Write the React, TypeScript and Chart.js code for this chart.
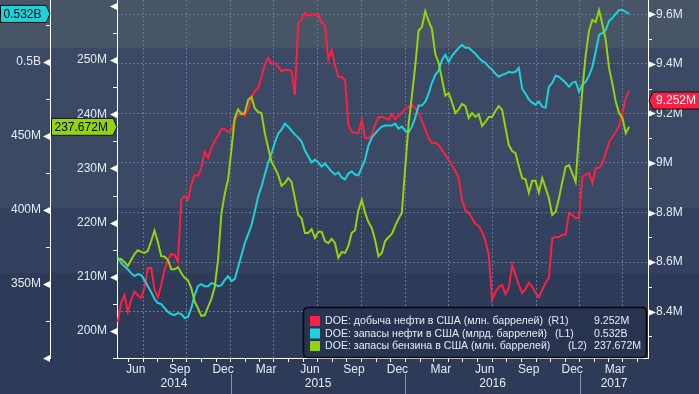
import React, { useEffect, useRef } from "react";
import { Chart, registerables } from "chart.js";

Chart.register(...registerables);

// ---------- data (weekly DOE observations) ----------
const FIRST_WEEK = { y: 2014, m: 4, d: 9 }; // 9 May 2014
const STEP_DAYS = 7;

// DOE: US crude production, million b/d (R1)
const productionR1 = [
  8.358, 8.435, 8.467, 8.399, 8.447, 8.48, 8.467, 8.455, 8.496, 8.576,
  8.576, 8.488, 8.459, 8.508, 8.568, 8.609, 8.633, 8.629, 8.601, 8.851,
  8.867, 8.851, 8.911, 8.952, 8.948, 8.98, 9.045, 9.02, 9.061, 9.089,
  9.109, 9.137, 9.137, 9.125, 9.133, 9.174, 9.194, 9.206, 9.19, 9.214,
  9.262, 9.291, 9.303, 9.347, 9.396, 9.424, 9.4, 9.404, 9.388, 9.371,
  9.375, 9.375, 9.371, 9.275, 9.569, 9.577, 9.606, 9.593, 9.601, 9.597,
  9.601, 9.565, 9.557, 9.416, 9.456, 9.396, 9.347, 9.347, 9.335, 9.154,
  9.125, 9.121, 9.121, 9.174, 9.101, 9.101, 9.113, 9.154, 9.186, 9.186,
  9.182, 9.174, 9.198, 9.178, 9.19, 9.202, 9.218, 9.226, 9.234, 9.222,
  9.202, 9.17, 9.137, 9.101, 9.081, 9.081, 9.073, 9.053, 9.032, 9.012,
  8.992, 8.968, 8.94, 8.851, 8.81, 8.798, 8.778, 8.754, 8.746, 8.722,
  8.685, 8.629, 8.447, 8.48, 8.5, 8.508, 8.471, 8.496, 8.588, 8.548,
  8.508, 8.475, 8.492, 8.516, 8.5, 8.475, 8.459, 8.488, 8.516, 8.536,
  8.697, 8.701, 8.701, 8.71, 8.71, 8.798, 8.79, 8.778, 8.778, 8.944,
  8.952, 8.96, 8.919, 8.98, 8.98, 9.0, 9.041, 9.085, 9.105, 9.125,
  9.149, 9.202, 9.262, 9.291,
];

// DOE: US crude inventories, million barrels (L1)
const crudeStocksL1 = [
  368.1, 364.0, 362.0, 360.0, 357.3, 355.3, 356.6, 356.0, 352.6, 348.5,
  344.5, 339.8, 337.1, 336.4, 333.7, 331.1, 329.7, 329.0, 330.4, 329.7,
  327.0, 327.7, 333.7, 342.5, 348.5, 349.9, 348.5, 348.5, 350.6, 349.9,
  348.5, 349.2, 352.6, 355.3, 351.9, 353.3, 361.3, 369.4, 377.5, 383.5,
  389.6, 399.0, 409.1, 415.8, 423.9, 432.0, 438.1, 445.5, 451.5, 454.2,
  458.2, 456.2, 453.5, 450.8, 448.8, 446.1, 440.1, 436.0, 432.0, 434.0,
  432.0, 429.3, 431.3, 428.6, 425.9, 423.9, 425.3, 421.9, 420.6, 424.6,
  425.9, 423.9, 423.3, 428.6, 434.0, 443.4, 448.8, 451.5, 454.2, 456.2,
  456.9, 456.9, 456.9, 458.2, 454.9, 456.2, 453.5, 452.2, 456.2, 462.3,
  470.4, 470.4, 473.1, 478.4, 485.8, 491.2, 493.9, 501.3, 504.7, 500.0,
  504.0, 506.7, 509.4, 511.4, 509.4, 509.4, 507.4, 505.4, 502.7, 500.6,
  499.3, 496.6, 494.6, 491.9, 489.9, 491.2, 491.9, 493.2, 492.6, 493.2,
  495.9, 481.8, 478.4, 474.4, 472.4, 471.0, 473.1, 469.7, 469.0, 483.1,
  485.8, 490.6, 489.9, 487.9, 485.8, 483.1, 485.8, 486.5, 479.8, 484.5,
  486.5, 490.6, 496.6, 506.7, 518.1, 519.5, 521.5, 527.6, 529.6, 532.3,
  535.0, 535.0, 533.6, 532.3,
];

// DOE: US gasoline inventories, million barrels (L2)
const gasolineStocksL2 = [
  213.1, 213.3, 212.7, 212.0, 213.1, 214.2, 214.9, 214.6, 214.4, 214.8,
  216.6, 218.5, 216.4, 213.8, 213.7, 213.1, 211.4, 211.4, 211.8, 210.7,
  209.8, 209.4, 207.9, 205.4, 204.2, 202.8, 202.9, 204.4, 205.9, 208.1,
  213.1, 221.6, 225.3, 227.9, 233.4, 239.3, 240.9, 240.0, 240.2, 242.6,
  243.2, 241.1, 240.4, 240.2, 236.5, 233.8, 231.2, 230.1, 228.8, 226.8,
  227.3, 228.2, 227.5, 224.5, 221.4, 220.8, 218.1, 218.1, 218.8, 217.2,
  218.3, 218.3, 216.6, 216.2, 217.0, 216.2, 213.5, 214.6, 214.4, 215.7,
  218.1, 218.6, 222.3, 224.2, 221.8, 220.1, 219.0, 216.8, 213.8, 214.4,
  216.6, 217.3, 217.9, 219.4, 220.7, 221.8, 230.1, 238.0, 243.4, 248.9,
  255.4, 256.1, 259.0, 257.2, 255.7, 251.1, 249.5, 246.5, 243.4, 243.9,
  242.2, 240.2, 240.9, 241.9, 241.5, 239.3, 240.2, 239.5, 240.0, 237.8,
  238.6, 239.5, 239.5, 240.6, 241.5, 240.8, 237.5, 234.3, 233.2, 232.8,
  230.4, 228.2, 228.0, 225.5, 227.7, 227.7, 225.6, 228.2, 226.4, 224.5,
  221.4, 222.0, 224.5, 227.5, 230.3, 230.6, 229.1, 227.5, 236.5, 244.5,
  250.9, 255.4, 257.4, 257.0, 259.2, 256.6, 253.7, 248.5, 245.6, 242.3,
  240.2, 239.3, 236.5, 237.7,
];

const seriesNames = [
  "DOE: добыча нефти в США (млн. баррелей)",
  "DOE: запасы нефти в США (млрд. баррелей)",
  "DOE: запасы бензина в США (млн. баррелей)",
];
const seriesTags = ["(R1)", "(L1)", "(L2)"];
const lastValues = [9.252, 532.3, 237.672];
const lastValueLabels = ["9.252M", "0.532B", "237.672M"];

const l1Ticks = [300, 325, 350, 375, 400, 425, 450, 475, 500, 525];
const l1Labels: [number, string][] = [[350, "350M"], [400, "400M"], [450, "450M"], [500, "0.5B"]];
const l1Majors = [300, 350, 400, 450, 500];

const l2Ticks = [195, 200, 205, 210, 215, 220, 225, 230, 235, 240, 245, 250, 255, 260];
const l2Labels: [number, string][] = [[200, "200M"], [210, "210M"], [220, "220M"], [230, "230M"], [240, "240M"], [250, "250M"]];
const l2Majors = [200, 210, 220, 230, 240, 250, 260];

const r1Ticks = [8.3, 8.4, 8.5, 8.6, 8.7, 8.8, 8.9, 9.0, 9.1, 9.2, 9.3, 9.4, 9.5, 9.6];
const r1Labels: [number, string][] = [[8.4, "8.4M"], [8.6, "8.6M"], [8.8, "8.8M"], [9.0, "9M"], [9.2, "9.2M"], [9.4, "9.4M"], [9.6, "9.6M"]];
const r1Majors = [8.4, 8.6, 8.8, 9.0, 9.2, 9.4, 9.6];

const monthNames = ["Jan", "Feb", "Mar", "Apr", "May", "Jun", "Jul", "Aug", "Sep", "Oct", "Nov", "Dec"];
const labeledMonths = [2, 5, 8, 11];
const gridMonths = [0, 3, 6, 9];
const years = [2014, 2015, 2016, 2017];

// ---------- styles ----------
const RED = "#ff1f45";
const CYAN = "#1cd3d9";
const GREEN = "#93d40b";
const GRID = "#5e7a94";
const TEXT = "#e6ebf3";
const FONT = "Liberation Sans";
const X_MIN = 126.4;
const X_MAX = 1238.5;

const dayOf = (y: number, m: number, d: number) =>
  (Date.UTC(y, m, d) - Date.UTC(2014, 0, 1)) / 86400000;

const near = (a: number, b: number) => Math.abs(a - b) < 1e-6;
const inList = (list: number[], v: number) => list.some((x) => near(x, v));
const labelFrom = (pairs: [number, string][], v: number) => {
  const p = pairs.find((q) => near(q[0], v));
  return p ? p[1] : "";
};

const startDay = dayOf(FIRST_WEEK.y, FIRST_WEEK.m, FIRST_WEEK.d);
const toPoints = (vals: number[]) => vals.map((v, i) => ({ x: startDay + i * STEP_DAYS, y: v }));

const monthTicks: { value: number; m: number }[] = [];
years.forEach((y) => {
  for (let m = 0; m < 12; m++) {
    const d = dayOf(y, m, 1);
    if (d >= X_MIN && d <= X_MAX) monthTicks.push({ value: d, m });
  }
});

const bandsPlugin = {
  id: "bands",
  beforeDraw(chart: any) {
    const { ctx, width, height } = chart;
    const bands: [number, number, string][] = [
      [0, 48, "#475566"],
      [48, 208, "#3b4964"],
      [208, 273, "#34415e"],
      [273, height, "#2d3a58"],
    ];
    ctx.save();
    bands.forEach(([a, b, c]) => {
      ctx.fillStyle = c;
      ctx.fillRect(0, a, width, b - a);
    });
    ctx.restore();
  },
};

const decorPlugin = {
  id: "decor",
  afterDraw(chart: any) {
    const { ctx, scales } = chart;
    const sx = scales.x;
    ctx.save();
    ctx.fillStyle = "#ffffff";
    ctx.strokeStyle = "#ffffff";
    ctx.lineWidth = 1;

    const marks = (scale: any, side: "left" | "right", majors: number[]) => {
      const ax = side === "left" ? scale.right : scale.left;
      scale.ticks.forEach((t: any) => {
        const y = Math.round(scale.getPixelForValue(t.value));
        ctx.beginPath();
        if (inList(majors, t.value)) {
          if (side === "left") {
            ctx.moveTo(ax - 7, y + 0.5);
            ctx.lineTo(ax, y - 3);
            ctx.lineTo(ax, y + 4);
          } else {
            ctx.moveTo(ax + 8, y + 0.5);
            ctx.lineTo(ax, y - 3);
            ctx.lineTo(ax, y + 4);
          }
          ctx.closePath();
          ctx.fill();
        } else {
          if (side === "left") {
            ctx.moveTo(ax - 4, y + 0.5);
            ctx.lineTo(ax, y + 0.5);
          } else {
            ctx.moveTo(ax, y + 0.5);
            ctx.lineTo(ax + 4, y + 0.5);
          }
          ctx.stroke();
        }
      });
    };
    marks(scales.yL1, "left", l1Majors);
    marks(scales.yL2, "left", l2Majors);
    marks(scales.yR1, "right", r1Majors);

    // year separators and labels
    ctx.font = `12px "${FONT}"`;
    ctx.textAlign = "center";
    ctx.textBaseline = "middle";
    years.forEach((y) => {
      const a = Math.max(dayOf(y, 0, 1), X_MIN);
      const b = Math.min(dayOf(y + 1, 0, 1), X_MAX);
      const jan = dayOf(y, 0, 1);
      if (jan > X_MIN) {
        const px = Math.round(sx.getPixelForValue(jan)) + 0.5;
        ctx.strokeStyle = "#8a94a6";
        ctx.beginPath();
        ctx.moveTo(px, 374);
        ctx.lineTo(px, chart.height);
        ctx.stroke();
      }
      const cx = (sx.getPixelForValue(a) + sx.getPixelForValue(b)) / 2;
      ctx.fillStyle = TEXT;
      ctx.fillText(String(y), cx, 384);
    });

    // legend box
    const lx = 303.5, ly = 307.5, lw = 343, lh = 50;
    ctx.beginPath();
    (ctx as any).roundRect(lx, ly, lw, lh, 4);
    ctx.fillStyle = "#28344f";
    ctx.fill();
    ctx.lineWidth = 1.5;
    ctx.strokeStyle = "#04070d";
    ctx.stroke();
    const colors = [RED, CYAN, GREEN];
    const rowY = [321, 333.5, 346];
    const tagX = [548, 555, 568];
    ctx.font = `11px "${FONT}"`;
    ctx.textAlign = "left";
    ctx.textBaseline = "middle";
    // horizontal squeeze so the first name spans the same width as the reference
    const k = Math.min(1, 218 / ctx.measureText(seriesNames[0]).width);
    const squeeze = (text: string, x: number, y: number) =>
      ctx.fillText(text, x, y, ctx.measureText(text).width * k);
    seriesNames.forEach((name, i) => {
      ctx.fillStyle = colors[i];
      ctx.fillRect(310, rowY[i] - 5, 10, 10);
      ctx.fillStyle = TEXT;
      squeeze(name, 325, rowY[i]);
      squeeze(seriesTags[i], tagX[i], rowY[i]);
      squeeze(lastValueLabels[i], 594, rowY[i]);
    });

    // last value tags
    const tag = (tipX: number, y: number, x0: number, x1: number, dir: number, fill: string, text: string, tc: string) => {
      const h = 8.5;
      ctx.beginPath();
      if (dir > 0) {
        ctx.moveTo(x0, y - h);
        ctx.lineTo(x1, y - h);
        ctx.lineTo(tipX, y);
        ctx.lineTo(x1, y + h);
        ctx.lineTo(x0, y + h);
      } else {
        ctx.moveTo(x1, y - h);
        ctx.lineTo(x0, y - h);
        ctx.lineTo(tipX, y);
        ctx.lineTo(x0, y + h);
        ctx.lineTo(x1, y + h);
      }
      ctx.closePath();
      ctx.fillStyle = fill;
      ctx.fill();
      ctx.lineWidth = 1;
      ctx.strokeStyle = "#0b0f18";
      ctx.stroke();
      ctx.font = `12px "${FONT}"`;
      ctx.textAlign = "left";
      ctx.textBaseline = "middle";
      ctx.fillStyle = tc;
      ctx.fillText(text, x0 + 3, y + 0.5);
    };
    const yc = scales.yL1.getPixelForValue(lastValues[1]);
    tag(scales.yL1.right, yc, 0.5, scales.yL1.right - 4, 1, CYAN, lastValueLabels[1], "#000");
    const yg = scales.yL2.getPixelForValue(lastValues[2]);
    tag(scales.yL2.right, yg, 51.5, scales.yL2.right - 4, 1, GREEN, lastValueLabels[2], "#000");
    const yr = scales.yR1.getPixelForValue(lastValues[0]);
    tag(scales.yR1.left + 1, yr, scales.yR1.left + 5, chart.width + 2, -1, RED, lastValueLabels[0], "#ffffff");

    ctx.restore();
  },
};

export default function App() {
  const ref = useRef<HTMLCanvasElement | null>(null);

  useEffect(() => {
    if (!ref.current) return;
    const tickFont = { family: FONT, size: 12 };
    const chart = new Chart(ref.current, {
      type: "line",
      data: {
        datasets: [
          { label: seriesNames[2], data: toPoints(gasolineStocksL2), yAxisID: "yL2", borderColor: GREEN, order: 0 },
          { label: seriesNames[1], data: toPoints(crudeStocksL1), yAxisID: "yL1", borderColor: CYAN, order: 1 },
          { label: seriesNames[0], data: toPoints(productionR1), yAxisID: "yR1", borderColor: RED, order: 2 },
        ].map((d) => ({ ...d, borderWidth: 2, pointRadius: 0, tension: 0, fill: false })),
      },
      options: {
        responsive: false,
        maintainAspectRatio: false,
        animation: false,
        devicePixelRatio: 1,
        events: [],
        layout: { padding: 0 },
        plugins: { legend: { display: false }, tooltip: { enabled: false } },
        scales: {
          x: {
            type: "linear",
            position: "bottom",
            min: X_MIN,
            max: X_MAX,
            afterBuildTicks: (sc: any) => {
              sc.ticks = monthTicks.map((t) => ({ value: t.value }));
            },
            afterFit: (sc: any) => {
              sc.height = 36;
              sc.paddingLeft = 0;
              sc.paddingRight = 0;
            },
            ticks: {
              autoSkip: false,
              maxRotation: 0,
              minRotation: 0,
              padding: 0,
              labelOffset: 7,
              color: TEXT,
              font: tickFont,
              callback: (v: any) => {
                const t = monthTicks.find((q) => near(q.value, v));
                return t && labeledMonths.includes(t.m) ? monthNames[t.m] : "";
              },
            },
            grid: {
              display: true,
              drawOnChartArea: true,
              drawTicks: true,
              tickLength: 4,
              tickWidth: 1,
              tickColor: "#ffffff",
              tickBorderDash: [],
              lineWidth: 1,
              color: (c: any) => {
                const t = monthTicks.find((q) => c.tick && near(q.value, c.tick.value));
                return t && gridMonths.includes(t.m) ? GRID : "rgba(0,0,0,0)";
              },
            },
            border: { display: true, color: "#ffffff", width: 1, dash: [2, 2] },
          },
          yL1: {
            type: "linear",
            position: "left",
            weight: 2,
            min: 300,
            max: 541.7,
            afterBuildTicks: (sc: any) => {
              sc.ticks = l1Ticks.map((v) => ({ value: v }));
            },
            afterFit: (sc: any) => {
              sc.width = 50;
              sc.paddingTop = 0;
              sc.paddingBottom = 0;
            },
            ticks: { autoSkip: false, padding: 9, color: TEXT, font: tickFont, callback: (v: any) => labelFrom(l1Labels, v) },
            grid: { display: false, drawTicks: false },
            border: { display: true, color: "#ffffff", width: 1 },
          },
          yL2: {
            type: "linear",
            position: "left",
            weight: 1,
            min: 195.02,
            max: 261.07,
            afterBuildTicks: (sc: any) => {
              sc.ticks = l2Ticks.map((v) => ({ value: v }));
            },
            afterFit: (sc: any) => {
              sc.width = 67;
              sc.paddingTop = 0;
              sc.paddingBottom = 0;
            },
            ticks: { autoSkip: false, padding: 10, color: TEXT, font: tickFont, callback: (v: any) => labelFrom(l2Labels, v) },
            grid: { display: false, drawTicks: false },
            border: { display: true, color: "#ffffff", width: 1 },
          },
          yR1: {
            type: "linear",
            position: "right",
            min: 8.213,
            max: 9.6577,
            afterBuildTicks: (sc: any) => {
              sc.ticks = r1Ticks.map((v) => ({ value: v }));
            },
            afterFit: (sc: any) => {
              sc.width = 51;
              sc.paddingTop = 0;
              sc.paddingBottom = 0;
            },
            ticks: { autoSkip: false, padding: 8, color: TEXT, font: tickFont, callback: (v: any) => labelFrom(r1Labels, v) },
            grid: {
              display: true,
              drawOnChartArea: true,
              drawTicks: false,
              lineWidth: 1,
              color: (c: any) => (c.tick && inList(r1Majors, c.tick.value) ? GRID : "rgba(0,0,0,0)"),
            },
            border: { display: true, color: "#ffffff", width: 1, dash: [2, 2] },
          },
        },
      } as any,
      plugins: [bandsPlugin, decorPlugin],
    });
    return () => chart.destroy();
  }, []);

  return (
    <div style={{ position: "fixed", left: 0, top: 0, width: 699, height: 394, background: "#2d3a58" }}>
      <canvas ref={ref} width={699} height={394} style={{ display: "block", width: 699, height: 394 }} />
    </div>
  );
}
